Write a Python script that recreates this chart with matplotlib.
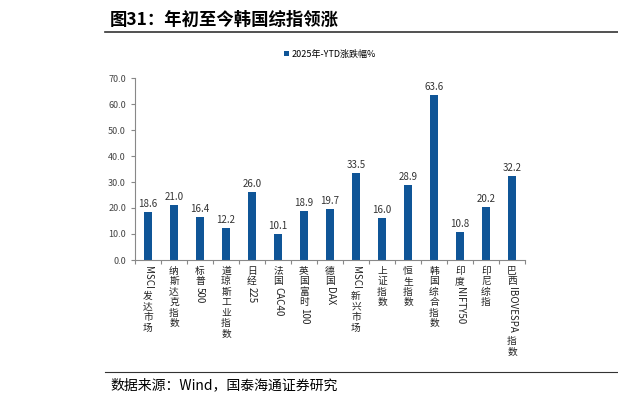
import re
import matplotlib
matplotlib.use('Agg')
import matplotlib.pyplot as plt

plt.rcParams['font.family'] = ['Noto Sans CJK SC', 'DejaVu Sans']

categories = ['MSCI发达市场', '纳斯达克指数', '标普500', '道琼斯工业指数', '日经225', '法国CAC40',
              '英国富时100', '德国DAX', 'MSCI新兴市场', '上证指数', '恒生指数', '韩国综合指数',
              '印度NIFTY50', '印尼综指', '巴西IBOVESPA指数']
values = [18.6, 21.0, 16.4, 12.2, 26.0, 10.1, 18.9, 19.7, 33.5, 16.0, 28.9, 63.6, 10.8, 20.2, 32.2]
series_name = '2025年-YTD涨跌幅%'
blue = '#0f5597'

fig = plt.figure(figsize=(6.18, 4.05), dpi=100)
ax = fig.add_axes([135 / 618, 1 - 260 / 405, 390 / 618, 182 / 405])
x = range(len(values))
ax.bar(x, values, width=0.3, color=blue, label=series_name)
for i, v in enumerate(values):
    ax.text(i, v + 1.2, f'{v:.1f}', ha='center', va='bottom', fontsize=7, color='#333333')
ax.set_ylim(0, 70)
ax.set_xlim(-0.5, len(values) - 0.5)
ax.set_yticks(range(0, 71, 10))
ax.set_yticklabels([f'{t:.1f}' for t in range(0, 71, 10)], fontsize=6.5, color='#444444')
ax.set_xticks([i - 0.5 for i in range(len(values) + 1)])
ax.set_xticklabels([])
ax.tick_params(axis='x', length=3, color='#888888')
ax.tick_params(axis='y', length=3, color='#888888')
for s in ['top', 'right']:
    ax.spines[s].set_visible(False)
for s in ['left', 'bottom']:
    ax.spines[s].set_color('#888888')
    ax.spines[s].set_linewidth(0.8)

# vertical category labels: CJK upright, latin runs rotated
fs = 7
for i, lab in enumerate(categories):
    off = -4
    for run in re.findall(r'[A-Za-z0-9 ]+|[^A-Za-z0-9 ]', lab):
        if re.match(r'[A-Za-z0-9 ]', run):
            w = len(run) * fs * 0.62
            ax.annotate(run, (i, 0), xycoords=('data', 'axes fraction'),
                        xytext=(0, off), textcoords='offset points',
                        rotation=-90, ha='center', va='top', fontsize=fs, color='#222222')
            off -= w + 1
        else:
            ax.annotate(run, (i, 0), xycoords=('data', 'axes fraction'),
                        xytext=(0, off), textcoords='offset points',
                        ha='center', va='top', fontsize=fs, color='#222222')
            off -= fs * 1.08

ax.legend(loc='upper center', bbox_to_anchor=(0.5, 1.2), frameon=False, fontsize=6.5,
          handlelength=0.6, handleheight=0.6, handletextpad=0.3)

fig.text(110 / 618, 1 - 20 / 405, '图31：年初至今韩国综指领涨', fontsize=12.5, fontweight='bold',
         va='center', ha='left')
fig.add_artist(plt.Line2D([105 / 618, 1], [1 - 32 / 405] * 2, color='#333333', lw=1.2))
fig.add_artist(plt.Line2D([105 / 618, 1], [1 - 372 / 405] * 2, color='#333333', lw=0.8))
fig.text(110 / 618, 1 - 385 / 405, '数据来源：Wind，国泰海通证券研究', fontsize=10, va='center', ha='left')

fig.savefig('out.png', dpi=100)
